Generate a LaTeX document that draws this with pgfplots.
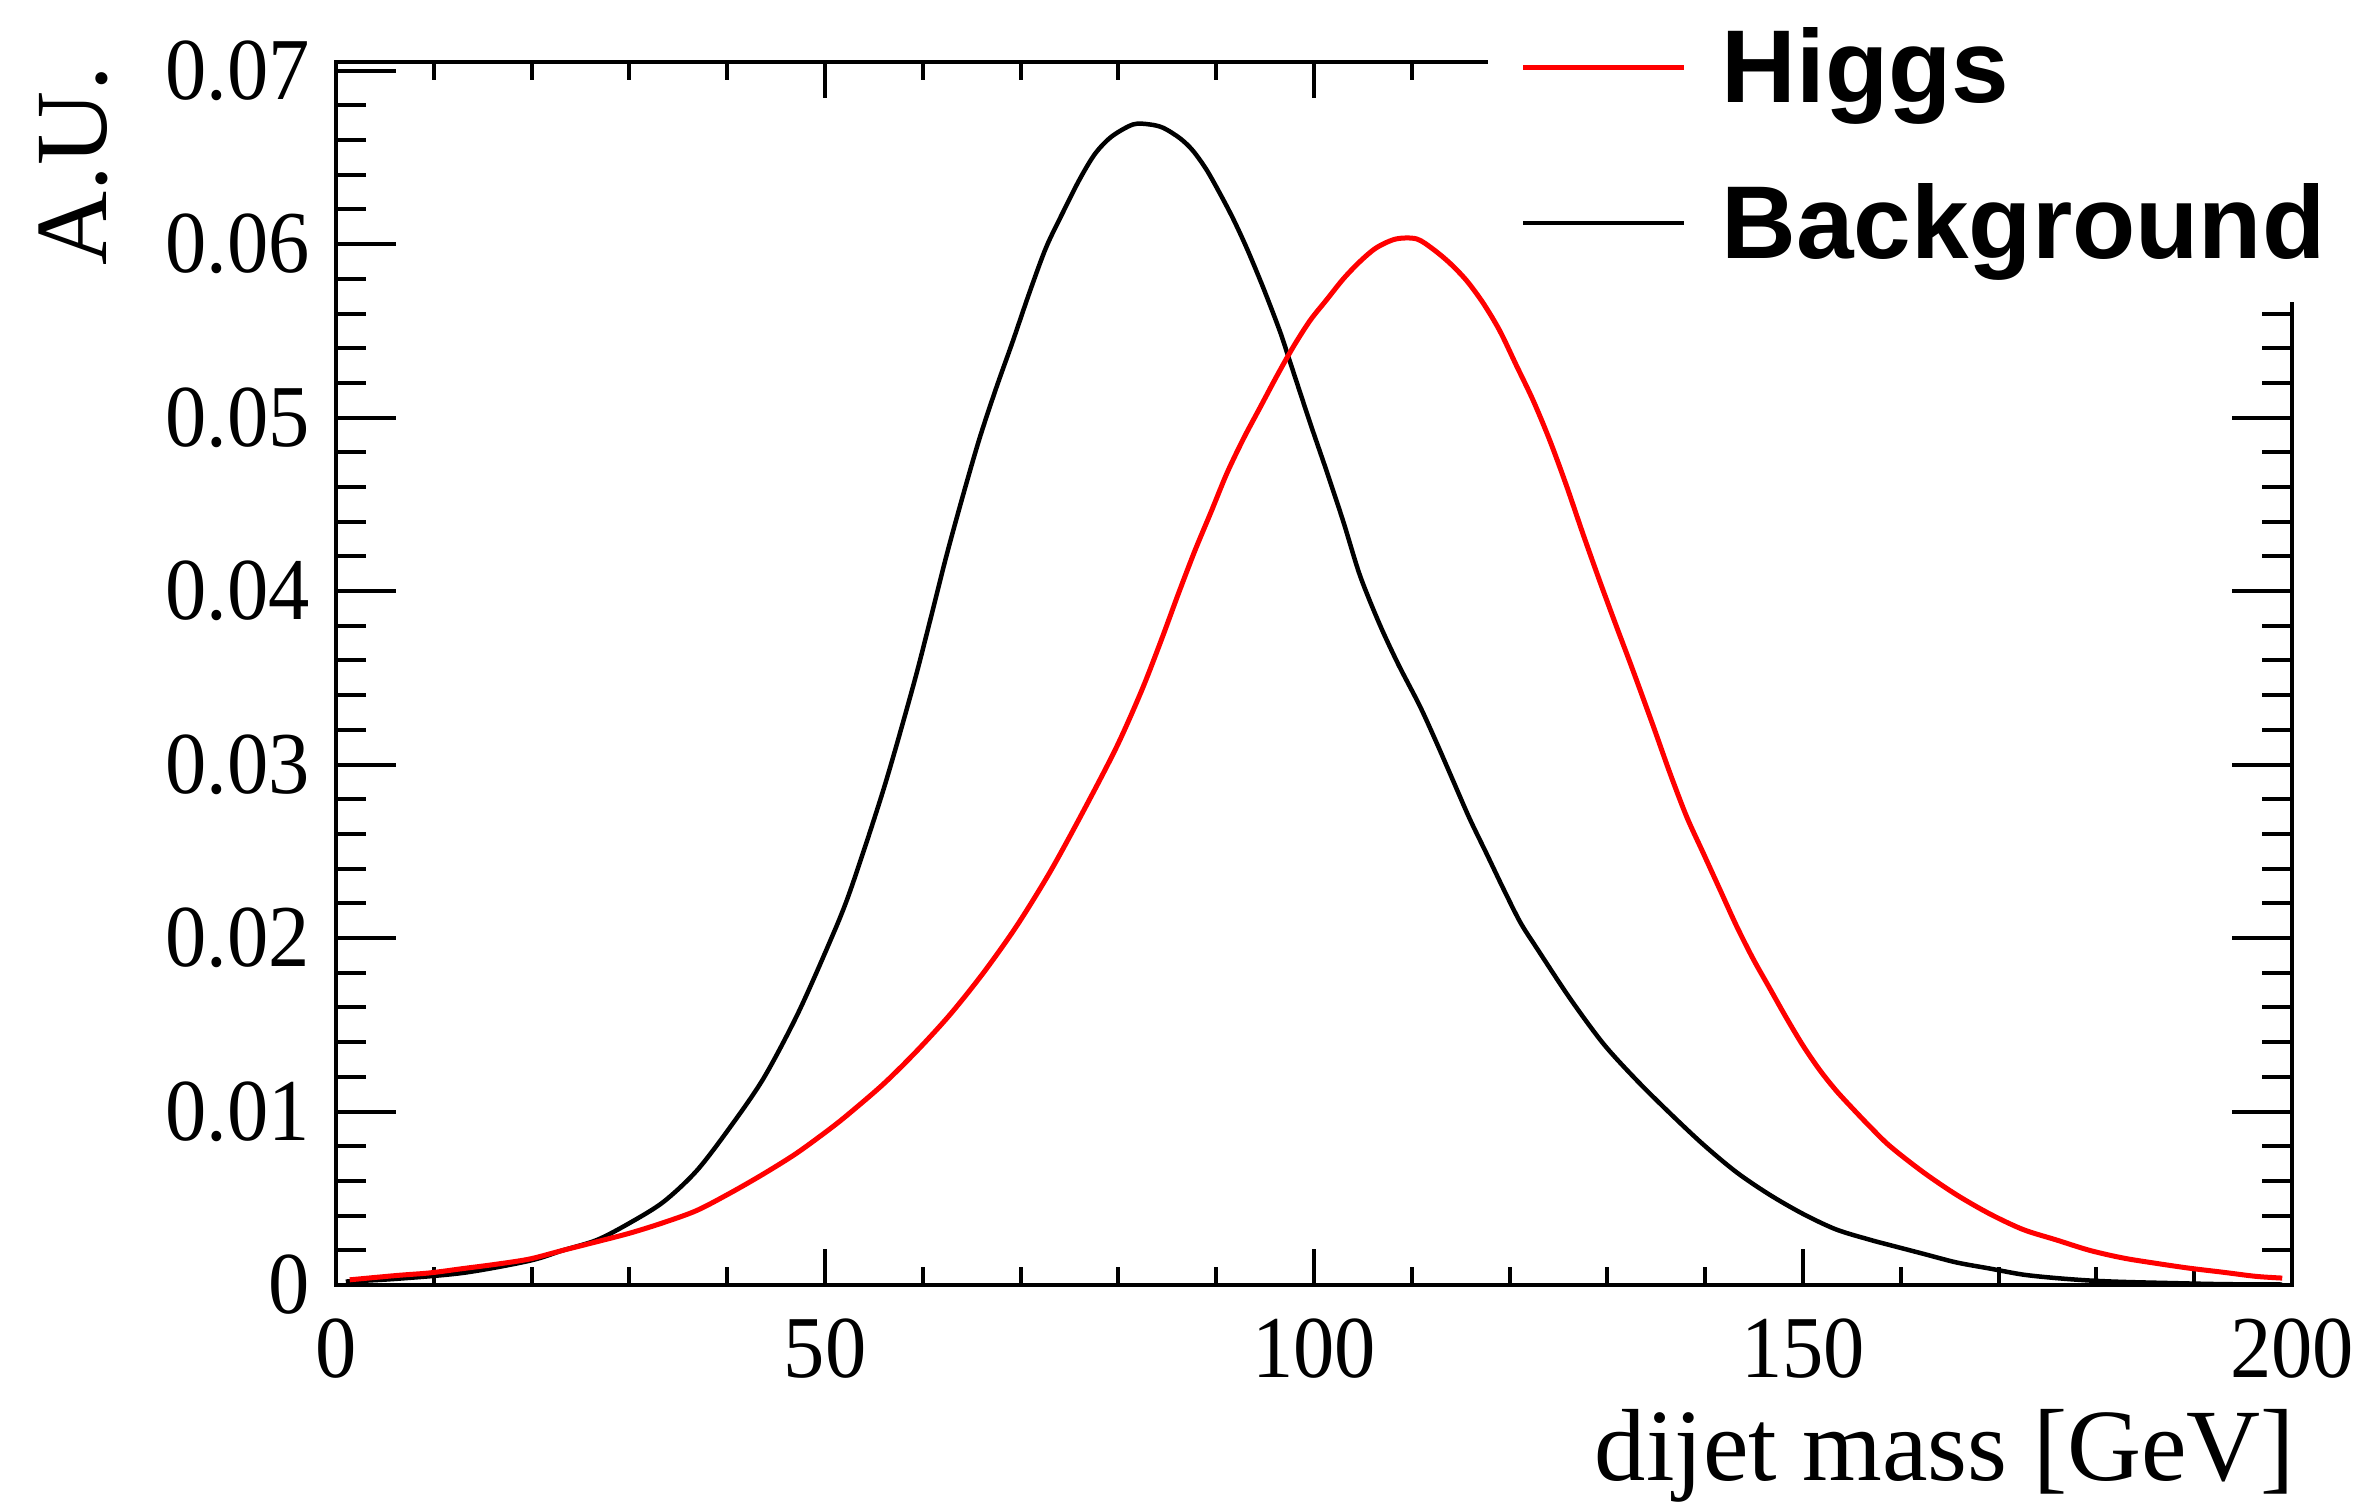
\documentclass[border=0pt]{standalone}
\usepackage{fontspec}
\setmainfont{Liberation Serif}
\newfontfamily\legfont{Liberation Sans}
\usepackage{pgfplots}
\pgfplotsset{compat=1.18}
\usepackage{pgfplotstable}

\pgfplotstableread{
x y
1.0 0.0002
6.0 0.00035
13.0 0.0007
19.8 0.0014
23.2 0.0020
26.7 0.0026
30.1 0.0036
33.5 0.0048
36.9 0.0066
40.3 0.0091
43.7 0.0119
47.1 0.0155
50.2 0.0194
52.5 0.0226
56.0 0.0286
59.0 0.0345
60.7 0.0382
62.4 0.0420
64.1 0.0455
65.8 0.0488
67.5 0.0517
69.2 0.0544
70.9 0.0572
72.6 0.0598
74.3 0.0618
76.0 0.0637
77.6 0.0652
79.3 0.0662
81.5 0.0669
83.2 0.0669
84.6 0.0667
86.3 0.0661
87.6 0.0654
89.0 0.0643
90.4 0.0629
91.7 0.0615
93.1 0.0598
94.8 0.0575
96.5 0.0550
97.5 0.0533
99.6 0.0497
101.3 0.0469
103.0 0.0440
104.7 0.0409
106.7 0.0381
108.6 0.0358
110.8 0.0334
112.5 0.0313
114.2 0.0291
115.9 0.0269
117.7 0.0248
119.4 0.0228
121.1 0.0209
122.8 0.0194
126.2 0.0165
129.6 0.0139
133.0 0.0118
136.4 0.0099
139.8 0.0081
143.2 0.0065
146.6 0.0052
150.0 0.0041
153.4 0.0032
156.9 0.0026
158.9 0.0023
162.3 0.0018
165.7 0.0013
169.1 0.00095
172.5 0.0006
175.9 0.0004
179.3 0.00026
182.7 0.00018
187.8 0.00011
193.0 0.00005
199.0 0.00003
}\bkgtable

\pgfplotstableread{
x y
1.4 0.0003
6.2 0.00055
9.6 0.0007
13.0 0.00095
16.4 0.0012
19.8 0.0015
23.2 0.0020
26.7 0.0025
30.1 0.0030
33.5 0.0036
36.9 0.0043
40.3 0.0053
43.7 0.0064
47.1 0.0076
50.5 0.0090
52.5 0.0099
56.0 0.0116
59.4 0.0135
62.8 0.0156
66.2 0.0180
69.6 0.0207
73.0 0.0238
76.4 0.0273
79.8 0.0310
82.4 0.0343
84.4 0.0372
86.1 0.0398
87.8 0.0423
89.5 0.0446
91.1 0.0468
92.8 0.0488
94.5 0.0506
96.2 0.0524
97.9 0.0541
99.6 0.0556
101.3 0.0568
103.0 0.0580
104.7 0.0590
106.4 0.0598
108.4 0.0603
110.5 0.0603
112.2 0.0597
113.9 0.0589
115.6 0.0579
117.3 0.0566
119.0 0.0550
120.7 0.0530
122.4 0.0510
124.1 0.0487
125.8 0.0461
127.5 0.0433
129.2 0.0406
130.9 0.0380
132.5 0.0356
134.7 0.0322
136.4 0.0295
138.1 0.0270
139.8 0.0249
141.5 0.0228
143.2 0.0207
144.9 0.0188
146.6 0.0171
148.3 0.0154
150.0 0.0138
151.7 0.0124
153.4 0.0112
155.2 0.0101
156.9 0.0091
158.9 0.0080
162.3 0.0065
165.7 0.0052
169.1 0.0041
172.5 0.0032
175.9 0.0026
179.3 0.0020
182.7 0.00156
186.1 0.00125
189.5 0.00097
192.9 0.00074
196.3 0.0005
199.0 0.0004
}\higgstable

\pgfplotsset{
  common/.style={
    at={(0pt,0pt)}, anchor=south west,
    width=391.2pt, height=244.6pt, scale only axis,
    xmin=0, xmax=200, ymin=0, ymax=0.0705,
    axis line style={line width=0.8pt},
    tick align=inside,
    every tick/.style={black, line width=0.8pt},
    /pgf/number format/assume math mode=true,
    every tick label/.append style={font=\fontsize{16.5}{19}\selectfont, inner sep=0pt, yscale=1.07},
  }
}

\begin{document}
\begin{tikzpicture}
% y ticks (longer) and y label
\begin{axis}[common,
  xtick=\empty,
  ytick={0,0.01,0.02,0.03,0.04,0.05,0.06,0.07},
  minor y tick num=4,
  major tick length=12pt, minor tick length=6pt,
  scaled y ticks=false,
  yticklabel style={/pgf/number format/.cd, fixed, precision=2},
  yticklabel shift=5pt,
  ylabel={A.U.},
  ylabel style={at={([xshift=-45.8pt,yshift=-0.6pt]rel axis cs:0,1)}, anchor=base east, inner sep=0pt, font=\fontsize{20.5}{24}\selectfont},
]
\end{axis}
% x ticks, curves, legend
\begin{axis}[common,
  ytick=\empty,
  xtick={0,50,100,150,200},
  minor x tick num=4,
  major tick length=7.3pt, minor tick length=3.6pt,
  xticklabel shift=6.6pt,
  xlabel={dijet mass [GeV]},
  xlabel style={at={(rel axis cs:1,0)}, anchor=base east, xshift=0.8pt, yshift=-39pt, inner sep=0pt, font=\fontsize{20.5}{24}\selectfont},
  reverse legend,
  legend cell align=left,
  legend image code/.code={\draw[#1] (0pt,0pt) -- (32.2pt,0pt);},
  legend style={at={(0.5885,0.8029)}, anchor=south west, draw=none, fill=white,
    inner xsep=6.5pt, inner ysep=7.8pt, column sep=7pt, row sep=15.2pt,
    nodes={inner sep=0pt, text height=15pt, text depth=1pt},
    font=\legfont\bfseries\fontsize{20.7}{25}\selectfont},
]
\addplot[black, line width=0.9pt, smooth, mark=none] table {\bkgtable};
\addlegendentry{Background}
\addplot[red, line width=1pt, smooth, mark=none] table {\higgstable};
\addlegendentry{Higgs}
\end{axis}
\pgfresetboundingbox
\path[use as bounding box] (-67.2pt,-43.8pt) rectangle (406.4pt,257pt);
\end{tikzpicture}
\end{document}
